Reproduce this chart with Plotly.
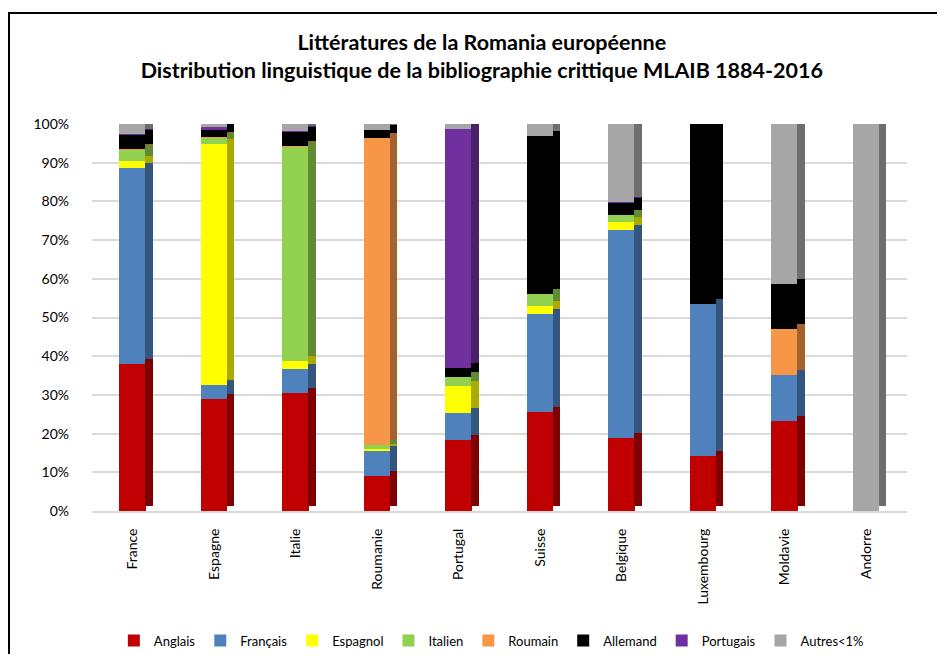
import plotly.graph_objects as go

# countries (x categories)
pays = ["France", "Espagne", "Italie", "Roumanie", "Portugal", "Suisse",
        "Belgique", "Luxembourg", "Moldavie", "Andorre"]

# share of each language in the bibliography (fraction of 1)
anglais   = [0.379, 0.290, 0.305, 0.090, 0.183, 0.256, 0.189, 0.141, 0.233, 0.0]
francais  = [0.508, 0.035, 0.061, 0.065, 0.071, 0.254, 0.536, 0.393, 0.118, 0.0]
espagnol  = [0.018, 0.624, 0.022, 0.006, 0.069, 0.020, 0.022, 0.0, 0.0, 0.0]
italien   = [0.029, 0.017, 0.554, 0.010, 0.023, 0.030, 0.017, 0.0, 0.0, 0.0]
roumain   = [0.002, 0.001, 0.002, 0.794, 0.0, 0.0, 0.0, 0.0, 0.119, 0.0]
allemand  = [0.037, 0.020, 0.036, 0.019, 0.024, 0.409, 0.033, 0.466, 0.117, 0.0]
portugais = [0.002, 0.004, 0.002, 0.0, 0.616, 0.0, 0.002, 0.0, 0.0, 0.0]
autres    = [0.025, 0.009, 0.018, 0.016, 0.014, 0.031, 0.201, 0.0, 0.413, 1.0]

series = [
    ("Anglais", anglais, "#c00000", "#7f0000"),
    ("Français", francais, "#4f81bd", "#34557d"),
    ("Espagnol", espagnol, "#ffff00", "#aaaa00"),
    ("Italien", italien, "#92d050", "#618a35"),
    ("Roumain", roumain, "#f79646", "#a5622c"),
    ("Allemand", allemand, "#000000", "#000000"),
    ("Portugais", portugais, "#7030a0", "#4a2069"),
    ("Autres<1%", autres, "#a6a6a6", "#6e6e6e"),
]

font = "Lato, 'Noto Sans', sans-serif"

fig = go.Figure()

# front faces
for name, vals, col, side in series:
    fig.add_trace(go.Bar(x=pays, y=vals, name=name, marker_color=col,
                         marker_line_width=0, width=0.325, offset=-0.165))

# darker side faces, slightly raised, to fake the 3D columns
for name, vals, col, side in series:
    fig.add_trace(go.Bar(x=pays, y=vals, name=name, marker_color=side,
                         marker_line_width=0, width=0.09, offset=0.155,
                         xaxis="x2", yaxis="y2", showlegend=False,
                         hoverinfo="skip"))

# page body has an 8px margin: keep the figure inside the 945x662 window
W, H = 929, 646
L, R, T, B = 84, 30, 116, 143
pw, ph = W - L - R, H - T - B

fig.update_layout(
    width=W, height=H,
    barmode="stack",
    margin=dict(l=L, r=R, t=T, b=B, autoexpand=False),
    paper_bgcolor="white", plot_bgcolor="white",
    font=dict(family=font, size=14, color="#404040"),
    title=dict(
        text="Littératures de la Romania européenne<br>"
             "Distribution linguistique de la bibliographie crittique MLAIB 1884-2016",
        x=0.510, xanchor="center", y=0.935, yanchor="middle",
        font=dict(family=font, size=21.5, color="#000000", weight="bold"),
    ),
    xaxis=dict(range=[-0.5, 9.5], tickangle=-90, showgrid=False,
               showline=True, linecolor="#d9d9d9", linewidth=2,
               ticks="", automargin=False, ticklabelstandoff=10,
               tickfont=dict(size=14, color="#000000")),
    xaxis2=dict(range=[-0.5, 9.5], overlaying="x", visible=False),
    yaxis=dict(range=[0, 1], dtick=0.1, tickformat=".0%",
               gridcolor="#d9d9d9", gridwidth=1.5, zeroline=False,
               automargin=False, ticklabelstandoff=22,
               tickfont=dict(size=14, color="#000000")),
    yaxis2=dict(range=[-0.013, 0.987], overlaying="y", visible=False),
    legend=dict(orientation="h", x=0.49, xanchor="center", y=-0.335,
                yanchor="middle", font=dict(size=13, color="#000000"),
                itemwidth=30, traceorder="normal"),
    bargap=0,
)

# thin black frame around the chart area
fig.add_shape(type="rect", xref="paper", yref="paper",
              x0=(1 - L) / pw, x1=(W + 20 - L) / pw,
              y0=-(B + 20) / ph, y1=(H - B - 5) / ph,
              line=dict(color="#000000", width=2), fillcolor="rgba(0,0,0,0)",
              layer="below")

fig.write_html("out.html")
